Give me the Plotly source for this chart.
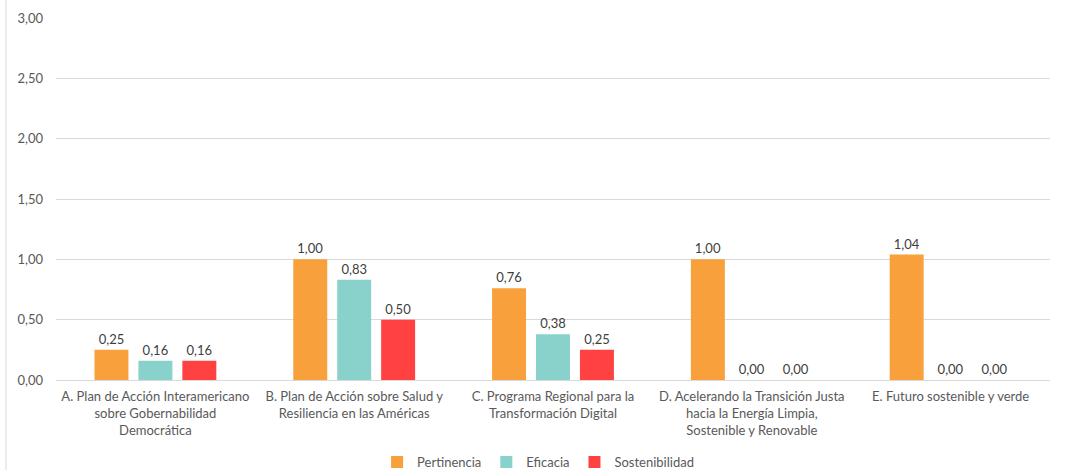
import plotly.graph_objects as go

categories = [
    "A. Plan de Acción Interamericano<br>sobre Gobernabilidad<br>Democrática",
    "B. Plan de Acción sobre Salud y<br>Resiliencia en las Américas",
    "C. Programa Regional para la<br>Transformación Digital",
    "D. Acelerando la Transición Justa<br>hacia la Energía Limpia,<br>Sostenible y Renovable",
    "E. Futuro sostenible y verde",
]
pertinencia = [0.25, 1.00, 0.76, 1.00, 1.04]
eficacia = [0.16, 0.83, 0.38, 0.00, 0.00]
sostenibilidad = [0.16, 0.50, 0.25, 0.00, 0.00]
y_ticks = [0, 0.5, 1.0, 1.5, 2.0, 2.5, 3.0]

series = [
    ("Pertinencia", pertinencia, "#F8A03C"),
    ("Eficacia", eficacia, "#89D2CC"),
    ("Sostenibilidad", sostenibilidad, "#FF4142"),
]

FONT = "Lato, 'Open Sans', sans-serif"
fig = go.Figure()
for name, vals, col in series:
    fig.add_trace(go.Bar(
        name=name, x=categories, y=vals, marker=dict(color=col, line=dict(width=0)),
        texttemplate="%{y:.2f}", textposition="outside", cliponaxis=False,
        textfont=dict(family=FONT, size=13, color="#404040"),
    ))

fig.update_layout(
    template="none",
    width=1069, height=470,
    margin=dict(l=56, r=19, t=18, b=90, autoexpand=False),
    paper_bgcolor="white", plot_bgcolor="white",
    separators=",.",
    barmode="group", bargap=0.337, bargroupgap=0.227,
    font=dict(family=FONT, size=13, color="#595959"),
    showlegend=True,
    legend=dict(orientation="h", x=0.485, xanchor="center", y=-0.227, yanchor="middle",
                font=dict(family=FONT, size=13, color="#595959"), traceorder="normal",
                itemwidth=30, bgcolor="rgba(0,0,0,0)"),
    xaxis=dict(showgrid=False, showline=False, ticks="", tickangle=0, automargin=False,
               ticklabelstandoff=7,
               tickfont=dict(family=FONT, size=13, color="#595959")),
    yaxis=dict(range=[0, 3.0], tickvals=y_ticks, tickformat=".2f", showgrid=True,
               gridcolor="#D9D9D9", gridwidth=1, zeroline=True, zerolinecolor="#D9D9D9",
               zerolinewidth=1, showline=False, ticks="", ticklabelstandoff=12,
               automargin=False,
               tickfont=dict(family=FONT, size=13, color="#595959")),
    shapes=[dict(type="line", xref="paper", yref="paper", x0=-0.0503, x1=-0.0503,
                 y0=-0.3, y1=1.06, line=dict(color="#D9D9D9", width=1))],
)

fig.write_html("out.html")
